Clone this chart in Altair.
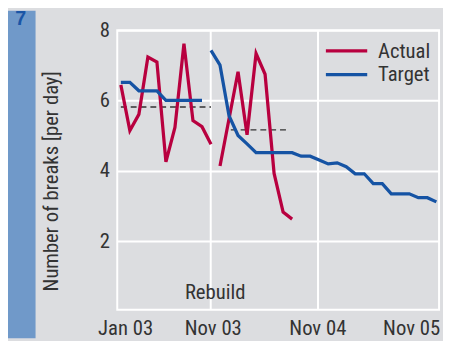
import altair as alt
import pandas as pd

# ---- data ----
actual_month = [0, 1, 2, 3, 4, 5, 6, 7, 8, 9, 10, 11, 13, 14, 15, 16, 17, 18, 19]
actual_value = [6.45, 5.15, 5.61, 7.24, 7.10, 4.26, 5.24, 7.62, 5.43, 5.26, 4.76,
                4.14, 6.82, 5.03, 7.34, 6.75, 3.93, 2.83, 2.63]
actual_segment = [1] * 11 + [2] * 8

target_month = list(range(0, 10)) + list(range(10, 36))
target_value = [6.52, 6.52, 6.28, 6.28, 6.28, 6.01, 6.01, 6.01, 6.01, 6.01,
                7.43, 7.01, 5.57, 5.01, 4.77, 4.52, 4.52, 4.52, 4.52, 4.52,
                4.42, 4.42, 4.31, 4.20, 4.23, 4.12, 3.92, 3.92, 3.64, 3.64,
                3.35, 3.35, 3.35, 3.24, 3.24, 3.12]
target_segment = [1] * 10 + [2] * 26

mean_start = [0, 12.2]
mean_end = [10, 18.6]
mean_value = [5.82, 5.17]

grid_months = [9.97, 21.87]
tick_months = [0.47, 10.2, 21.8, 32.2]
tick_labels = ["Jan 03", "Nov 03", "Nov 04", "Nov 05"]
y_ticks = [2, 4, 6, 8]

annot_month = [10.46]
annot_value = [0.53]
annot_text = ["Rebuild"]

FONT = "Liberation Sans Narrow, Roboto Condensed, DejaVu Sans Condensed, Arial Narrow, sans-serif"
FS = 21
BG = "#dcdde0"
RED = "#b8003f"
BLUE = "#1553a4"
TXT = "#333333"

actual_df = pd.DataFrame({"month": actual_month, "value": actual_value, "seg": actual_segment})
target_df = pd.DataFrame({"month": target_month, "value": target_value, "seg": target_segment})
mean_df = pd.DataFrame({"start": mean_start, "end": mean_end, "value": mean_value})
grid_df = pd.DataFrame({"month": grid_months})
annot_df = pd.DataFrame({"month": annot_month, "value": annot_value, "text": annot_text})

label_expr = " : ".join(
    f"datum.value < {v + 0.5} ? '{l}'" for v, l in zip(tick_months[:-1], tick_labels[:-1])
) + f" : '{tick_labels[-1]}'"

xscale = alt.Scale(domain=[-0.4, 35.3], nice=False, zero=False)
yscale = alt.Scale(domain=[0.05, 8], nice=False, zero=False)

xenc = alt.X("month:Q", scale=xscale,
             axis=alt.Axis(values=tick_months, labelExpr=label_expr, grid=False, domain=False,
                           ticks=False, title=None, labelFontSize=FS, labelColor=TXT,
                           labelFont=FONT, labelPadding=8, labelFlush=False, labelOverlap=False))
yenc = alt.Y("value:Q", scale=yscale,
             axis=alt.Axis(values=y_ticks, grid=True, gridColor="white", gridWidth=2,
                           domain=False, ticks=False, labelFontSize=FS, labelColor=TXT,
                           labelFont=FONT, labelPadding=8,
                           title="Number of breaks [per day]", titleFont=FONT, titleFontSize=FS,
                           titleFontWeight="normal", titleColor=TXT, titleX=-67, titleY=153,
                           titleAlign="center", titleBaseline="middle", titleAngle=270))

strip = alt.Chart(pd.DataFrame({"a": [0]})).mark_rect(color="#7099c9").encode(
    x=alt.value(-111), x2=alt.value(-83), y=alt.value(-20), y2=alt.value(313))
seven = alt.Chart(pd.DataFrame({"t": ["7"]})).mark_text(
    font="Liberation Sans, Arial, sans-serif", fontSize=20, fontWeight="bold", color="#1a55a6",
    align="center", baseline="middle").encode(text="t:N", x=alt.value(-98), y=alt.value(-11))

vgrid = alt.Chart(grid_df).mark_rule(color="white", strokeWidth=2).encode(x=alt.X("month:Q", scale=xscale))

means = alt.Chart(mean_df).mark_rule(color="#333333", strokeWidth=1.4, strokeDash=[6, 4]).encode(
    x=alt.X("start:Q", scale=xscale), x2="end:Q", y=alt.Y("value:Q", scale=yscale))

actual = alt.Chart(actual_df).mark_line(color=RED, strokeWidth=3.3, strokeJoin="miter").encode(
    x=xenc, y=yenc, detail="seg:N", order="month:Q")
target = alt.Chart(target_df).mark_line(color=BLUE, strokeWidth=3.3, strokeJoin="miter").encode(
    x=alt.X("month:Q", scale=xscale), y=alt.Y("value:Q", scale=yscale), detail="seg:N", order="month:Q")

annot = alt.Chart(annot_df).mark_text(font=FONT, fontSize=FS, color=TXT, align="center",
                                      baseline="middle").encode(
    x=alt.X("month:Q", scale=xscale), y=alt.Y("value:Q", scale=yscale), text="text:N")

leg_a_line = alt.Chart(pd.DataFrame({"a": [0]})).mark_rule(color=RED, strokeWidth=3.3).encode(
    x=alt.value(212), x2=alt.value(254), y=alt.value(21))
leg_t_line = alt.Chart(pd.DataFrame({"a": [0]})).mark_rule(color=BLUE, strokeWidth=3.3).encode(
    x=alt.value(212), x2=alt.value(254), y=alt.value(45))
leg_a_txt = alt.Chart(pd.DataFrame({"t": ["Actual"]})).mark_text(
    font=FONT, fontSize=FS, color=TXT, align="left", baseline="middle").encode(
    text="t:N", x=alt.value(265), y=alt.value(22.5))
leg_t_txt = alt.Chart(pd.DataFrame({"t": ["Target"]})).mark_text(
    font=FONT, fontSize=FS, color=TXT, align="left", baseline="middle").encode(
    text="t:N", x=alt.value(265), y=alt.value(46))

chart = alt.layer(
    strip, seven, vgrid, means, actual, target, annot,
    leg_a_line, leg_t_line, leg_a_txt, leg_t_txt
).properties(
    width=327, height=284,
    autosize=alt.AutoSizeParams(type="none"),
    padding={"left": 111, "top": 20, "right": 4, "bottom": 29},
    background=BG,
).configure_view(
    fill=BG, stroke="white", strokeWidth=2
)

chart.save("out.html", embed_options={"renderer": "svg", "actions": False})
